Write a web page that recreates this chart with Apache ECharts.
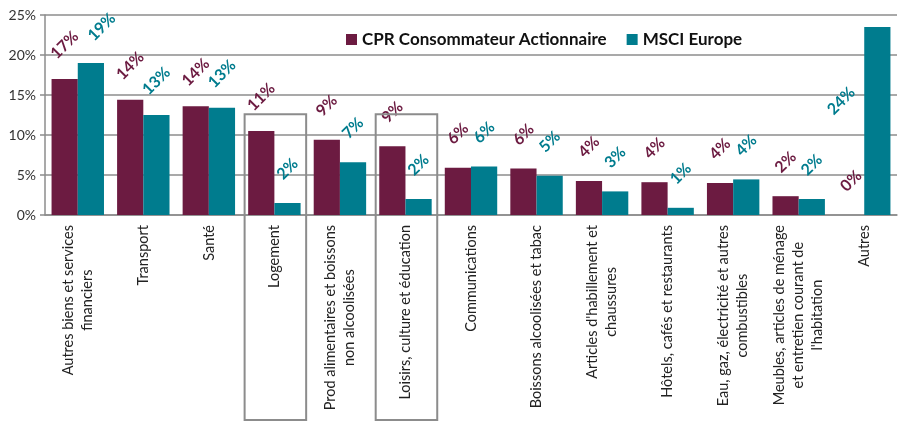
<!DOCTYPE html>
<html>
<head>
<meta charset="utf-8">
<script src="https://cdn.jsdelivr.net/npm/echarts@6/dist/echarts.min.js"></script>
<style>
  html, body { margin: 0; padding: 0; background: #fff; }
  #main { width: 903px; height: 421px; }
</style>
</head>
<body>
<div id="main"></div>
<script>
// categories (line breaks as in the original chart)
const categories = [
  "Autres biens et services\nfinanciers",
  "Transport",
  "Santé",
  "Logement",
  "Prod alimentaires et boissons\nnon alcoolisées",
  "Loisirs, culture et éducation",
  "Communications",
  "Boissons alcoolisées et tabac",
  "Articles d'habillement et\nchaussures",
  "Hôtels, cafés et restaurants",
  "Eau, gaz, électricité et autres\ncombustibles",
  "Meubles, articles de ménage\net entretien courant de\nl'habitation",
  "Autres"
];
const cprValues  = [17.0, 14.4, 13.6, 10.5, 9.4, 8.6, 5.9, 5.8, 4.25, 4.1, 4.0, 2.35, 0];
const msciValues = [19.0, 12.5, 13.4, 1.5, 6.6, 2.0, 6.05, 4.9, 2.95, 0.9, 4.45, 2.0, 23.5];
const seriesNames = ["CPR Consommateur Actionnaire", "MSCI Europe"];
const highlighted = ["Logement", "Loisirs, culture et éducation"];

const cprColor = "#6c1b41";
const msciColor = "#007c8e";
const font = "Lato, 'Open Sans', sans-serif";

const chart = echarts.init(document.getElementById("main"));

function lbl(color) {
  return {
    show: true,
    position: "top",
    distance: 34,
    rotate: 45,
    align: "center",
    verticalAlign: "middle",
    color: color,
    fontFamily: font,
    fontWeight: "bold",
    fontSize: 16,
    formatter: p => Math.round(p.value) + "%"
  };
}

// labels Excel moved so they stay in the plot
const msciData = msciValues.map((v, i) => {
  if (i === 0) return { value: v, label: { position: [24, -36] } };
  if (i === msciValues.length - 1) return { value: v, label: { position: [-23, 74] } };
  return v;
});

chart.setOption({
  animation: false,
  grid: { left: 45, right: 6, top: 15, bottom: 206, containLabel: false },
  legend: {
    top: 26,
    left: 341,
    itemWidth: 11,
    itemHeight: 11,
    itemGap: 20,
    icon: "rect",
    textStyle: { fontFamily: font, fontWeight: "bold", fontSize: 17, color: "#111" },
    data: seriesNames
  },
  xAxis: {
    type: "category",
    data: categories,
    axisLine: { lineStyle: { color: "#8c8c8c", width: 1.5 } },
    axisTick: { length: 5, lineStyle: { color: "#8c8c8c", width: 1.5 } },
    axisLabel: {
      interval: 0,
      rotate: 90,
      margin: 10,
      color: "#222",
      fontFamily: font,
      fontSize: 14.5,
      formatter: v => v.split("\n").map(s => "{a|" + s + "}").join("\n"),
      rich: { a: { align: "center", fontFamily: font, fontSize: 14.5, color: "#222", lineHeight: 19 } }
    }
  },
  yAxis: {
    type: "value",
    min: 0,
    max: 25,
    interval: 5,
    axisLine: { show: true, lineStyle: { color: "#8c8c8c", width: 1.5 } },
    axisTick: { show: true, length: 5, lineStyle: { color: "#8c8c8c", width: 1.5 } },
    splitLine: { lineStyle: { color: "#8c8c8c", width: 1.5 } },
    axisLabel: { formatter: "{value}%", color: "#333", fontFamily: font, fontSize: 14, margin: 9 }
  },
  series: [
    {
      name: seriesNames[0],
      type: "bar",
      data: cprValues,
      itemStyle: { color: cprColor },
      barGap: "0%",
      barCategoryGap: "20%",
      label: lbl(cprColor)
    },
    {
      name: seriesNames[1],
      type: "bar",
      data: msciData,
      itemStyle: { color: msciColor },
      barGap: "0%",
      barCategoryGap: "20%",
      label: lbl(msciColor)
    }
  ]
});

// frames around the highlighted categories
const h = chart.getHeight();
const band = chart.getModel().getComponent("xAxis", 0).axis.getBandWidth();
const boxes = highlighted.map(name => {
  const cx = chart.convertToPixel({ xAxisIndex: 0 }, name);
  const top = chart.convertToPixel({ yAxisIndex: 0 }, 12.6);
  const w = band - 4;
  return {
    type: "rect",
    shape: { x: cx - w / 2 + 1, y: top, width: w, height: h - 1 - top },
    style: { fill: null, stroke: "#8c8c8c", lineWidth: 2 },
    z: 10
  };
});
chart.setOption({ graphic: boxes });
</script>
</body>
</html>
